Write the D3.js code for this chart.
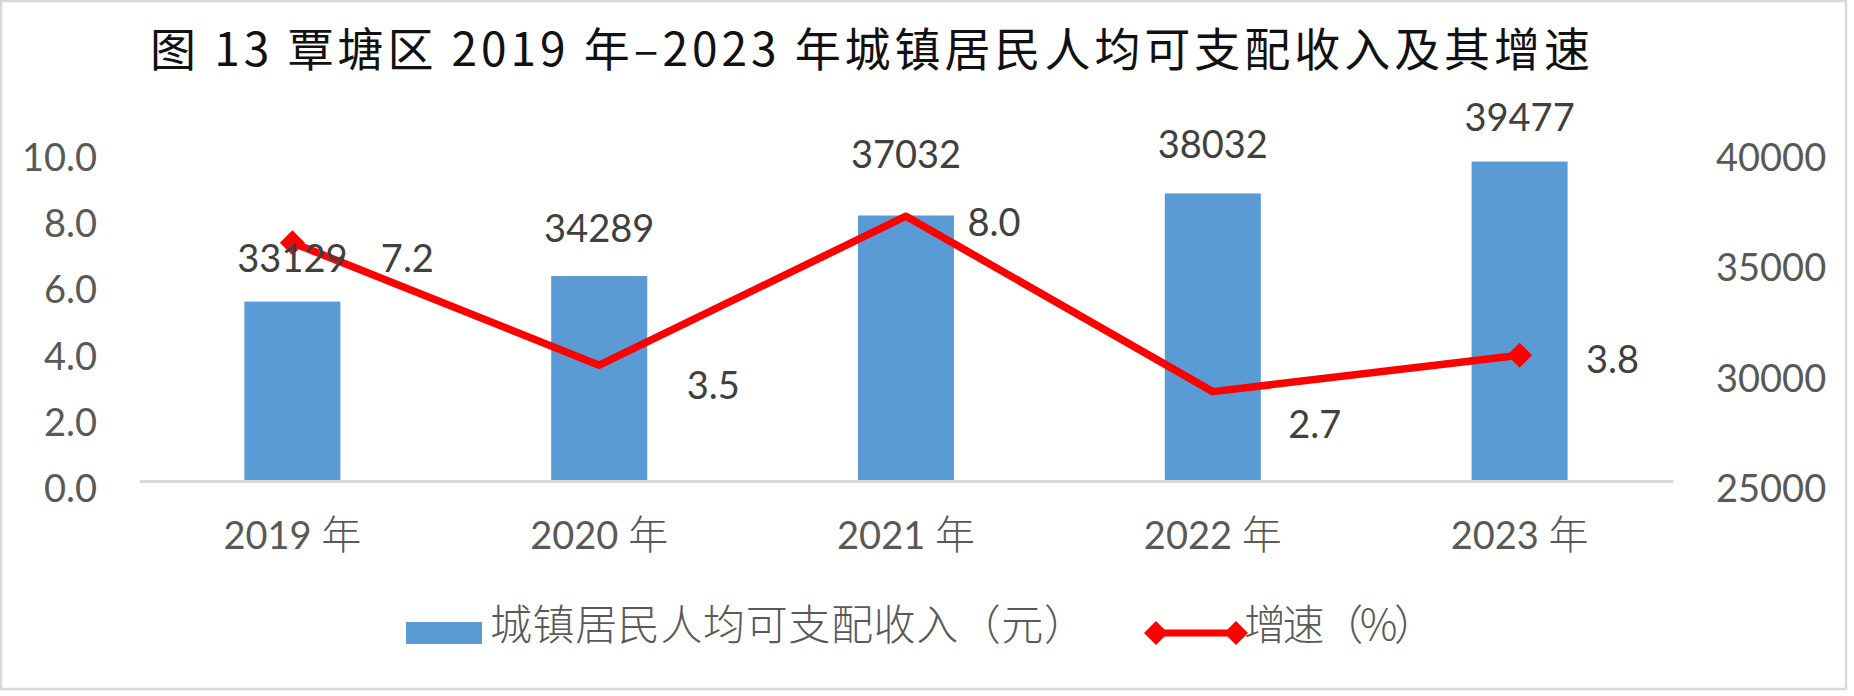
<!DOCTYPE html>
<html>
<head>
<meta charset="utf-8">
<script src="https://cdn.jsdelivr.net/npm/d3@7"></script>
<style>
  html, body { margin: 0; padding: 0; background: #fff; }
  svg { display: block; }
</style>
</head>
<body>
<div id="chart"></div>
<script>
// data
var years = ['2019', '2020', '2021', '2022', '2023']
var income = [33129, 34289, 37032, 38032, 39477]
var growth = [7.2, 3.5, 8.0, 2.7, 3.8]
var leftTicks = [0, 2, 4, 6, 8, 10]
var rightTicks = [25000, 30000, 35000, 40000]

var titleText = '图 13 覃塘区 2019 年–2023 年城镇居民人均可支配收入及其增速'
var barName = '城镇居民人均可支配收入（元）'
var lineName = '增速（%）'

// label nudges (px)
var barLabelDy = [-43, -48, -61, -49, -44]
var lineLabelDx = [115, 114, 88, 102, 93]
var lineLabelDy = [16, 20, 6, 33, 4]

var W = 1854, H = 696
var plot = {left: 139, right: 1673, top: 150, bottom: 481}

var numFont = 'Lato, "Open Sans", sans-serif'
var cjkFont = '"Noto Sans CJK SC", sans-serif'

var svg = d3.select('#chart').append('svg')
    .attr('width', W)
    .attr('height', H)

// chart frame
svg.append('rect')
    .attr('x', 1).attr('y', 1)
    .attr('width', 1845).attr('height', 688)
    .attr('fill', '#fff')
    .attr('stroke', '#d9d9d9')
    .attr('stroke-width', 2.5)

// title
svg.append('text')
    .attr('x', 150)
    .attr('y', 66)
    .attr('textLength', 1440)
    .attr('lengthAdjust', 'spacing')
    .style('font-family', cjkFont)
    .style('font-size', '46px')
    .style('font-weight', 400)
    .style('fill', '#111')
    .text(titleText)

var x = d3.scaleBand()
    .domain(years)
    .range([plot.left, plot.right])
    .padding(0)

var yL = d3.scaleLinear()
    .domain([0, 10])
    .range([plot.bottom, plot.top])

var yR = d3.scaleLinear()
    .domain([25000, 40000])
    .range([plot.bottom, plot.top])

var barW = x.bandwidth() * 0.313
var cx = function(i) { return x(years[i]) + x.bandwidth() / 2 }

// left axis
var gL = svg.append('g')
    .attr('transform', 'translate(' + plot.left + ',0)')
    .call(d3.axisLeft(yL).tickValues(leftTicks).tickFormat(d3.format('.1f')).tickSize(0).tickPadding(42))
gL.select('.domain').remove()
gL.selectAll('text')
    .attr('dy', '0.54em')
    .style('font-family', numFont)
    .style('font-size', '38px')
    .style('fill', '#595959')

// right axis
var gR = svg.append('g')
    .attr('transform', 'translate(' + plot.right + ',0)')
    .call(d3.axisRight(yR).tickValues(rightTicks).tickFormat(d3.format('d')).tickSize(0).tickPadding(43))
gR.select('.domain').remove()
gR.selectAll('text')
    .attr('dy', '0.54em')
    .style('font-family', numFont)
    .style('font-size', '38px')
    .style('fill', '#595959')

// bars
svg.selectAll('rect.bar')
    .data(income)
    .enter()
    .append('rect')
    .attr('class', 'bar')
    .attr('x', function(d, i) { return cx(i) - barW / 2 })
    .attr('width', barW)
    .attr('y', function(d) { return yR(d) })
    .attr('height', function(d) { return plot.bottom - yR(d) })
    .attr('fill', '#5b9bd5')

// category axis
var gX = svg.append('g')
    .attr('transform', 'translate(0,' + plot.bottom + ')')
    .call(d3.axisBottom(x).tickSize(0).tickFormat(''))
gX.select('.domain')
    .attr('stroke', '#d9d9d9')
    .attr('stroke-width', 3)
gX.selectAll('text').remove()

var xLab = svg.selectAll('text.xlab')
    .data(years)
    .enter()
    .append('text')
    .attr('class', 'xlab')
    .attr('x', function(d, i) { return cx(i) })
    .attr('y', 549)
    .attr('text-anchor', 'middle')
    .style('fill', '#595959')
xLab.append('tspan')
    .style('font-family', numFont)
    .style('font-size', '38px')
    .text(function(d) { return d + ' ' })
xLab.append('tspan')
    .style('font-family', cjkFont)
    .style('font-size', '40px')
    .style('font-weight', 300)
    .text('年')

// growth line
var line = d3.line()
    .x(function(d, i) { return cx(i) })
    .y(function(d) { return yL(d) })

svg.append('path')
    .datum(growth)
    .attr('d', line)
    .attr('fill', 'none')
    .attr('stroke', '#ff0000')
    .attr('stroke-width', 7.5)
    .attr('stroke-linejoin', 'round')

function diamond(r) {
    return 'M0,' + (-r) + 'L' + r + ',0L0,' + r + 'L' + (-r) + ',0Z'
}

// markers only on the first and last point
svg.selectAll('path.mark')
    .data([0, growth.length - 1])
    .enter()
    .append('path')
    .attr('class', 'mark')
    .attr('transform', function(i) { return 'translate(' + cx(i) + ',' + yL(growth[i]) + ')' })
    .attr('d', diamond(12.5))
    .attr('fill', '#ff0000')

// bar value labels
svg.selectAll('text.barlab')
    .data(income)
    .enter()
    .append('text')
    .attr('class', 'barlab')
    .attr('x', function(d, i) { return cx(i) })
    .attr('y', function(d, i) { return yR(d) + barLabelDy[i] })
    .attr('dy', '0.36em')
    .attr('text-anchor', 'middle')
    .style('font-family', numFont)
    .style('font-size', '38px')
    .style('fill', '#404040')
    .text(function(d) { return d })

// growth labels
svg.selectAll('text.linelab')
    .data(growth)
    .enter()
    .append('text')
    .attr('class', 'linelab')
    .attr('x', function(d, i) { return cx(i) + lineLabelDx[i] })
    .attr('y', function(d, i) { return yL(d) + lineLabelDy[i] })
    .attr('dy', '0.36em')
    .attr('text-anchor', 'middle')
    .style('font-family', numFont)
    .style('font-size', '38px')
    .style('fill', '#404040')
    .text(function(d) { return d3.format('.1f')(d) })

// legend
var lg = svg.append('g')

lg.append('rect')
    .attr('x', 406).attr('y', 622)
    .attr('width', 76).attr('height', 22)
    .attr('fill', '#5b9bd5')

lg.append('text')
    .attr('x', 490)
    .attr('y', 640)
    .attr('textLength', 596)
    .attr('lengthAdjust', 'spacing')
    .style('font-family', cjkFont)
    .style('font-size', '42px')
    .style('font-weight', 300)
    .style('fill', '#595959')
    .text(barName)

lg.append('line')
    .attr('x1', 1156).attr('x2', 1236)
    .attr('y1', 633).attr('y2', 633)
    .attr('stroke', '#ff0000')
    .attr('stroke-width', 7)

lg.selectAll('path.lgmark')
    .data([1156, 1236])
    .enter()
    .append('path')
    .attr('class', 'lgmark')
    .attr('transform', function(d) { return 'translate(' + d + ',633)' })
    .attr('d', diamond(12))
    .attr('fill', '#ff0000')

lg.append('text')
    .attr('x', 1244)
    .attr('y', 640)
    .attr('textLength', 192)
    .attr('lengthAdjust', 'spacing')
    .style('font-family', cjkFont)
    .style('font-size', '42px')
    .style('font-weight', 300)
    .style('fill', '#595959')
    .text(lineName)
</script>
</body>
</html>
